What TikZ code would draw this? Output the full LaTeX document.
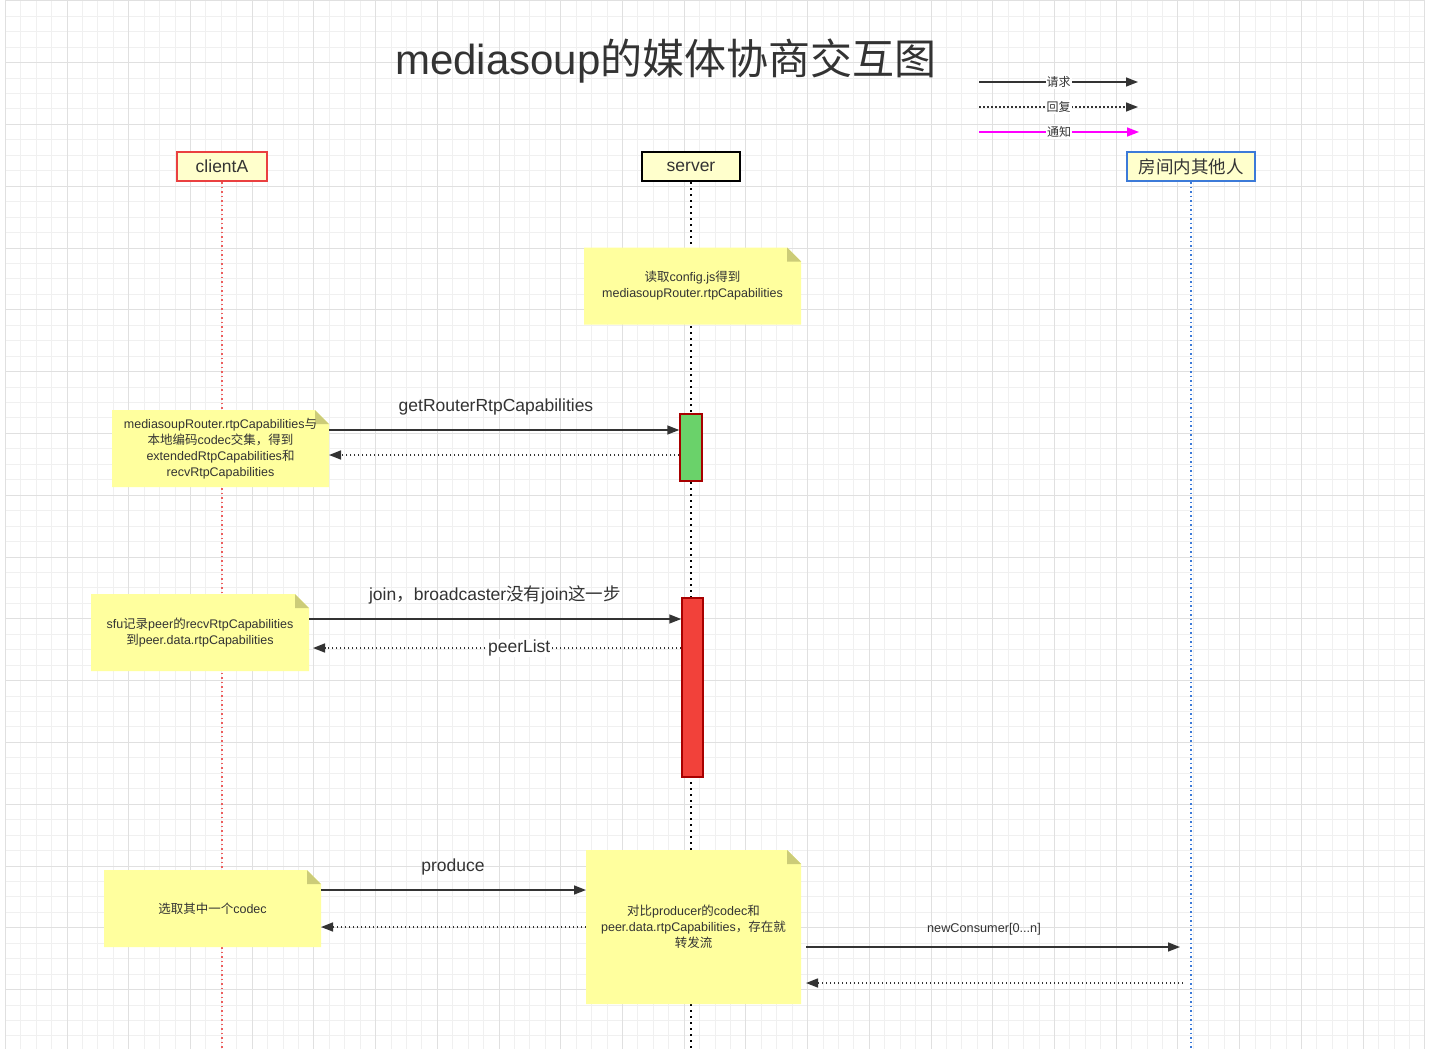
\documentclass[tikz,border=0pt]{standalone}
\usepackage{fontspec}
\setmainfont{Liberation Sans}
\newfontfamily\cjk{Noto Sans CJK SC}
\newcommand{\zh}[1]{{\cjk #1}}
\usepackage{xcolor}
\definecolor{mytext}{HTML}{333333}
\definecolor{gridminor}{HTML}{F0F0F0}
\definecolor{gridmajor}{HTML}{E0E0E0}
\definecolor{headfill}{HTML}{FFFFCC}
\definecolor{notefill}{HTML}{FFFF9E}
\definecolor{foldfill}{HTML}{CCCC78}
\definecolor{myred}{HTML}{EA4040}
\definecolor{myblue}{HTML}{3C7AD8}
\definecolor{actgreen}{HTML}{6AD26A}
\definecolor{actred}{HTML}{F2413A}
\definecolor{actborder}{HTML}{A80000}
\definecolor{notify}{HTML}{FF00FF}
\usetikzlibrary{arrows.meta,backgrounds,calc}

\tikzset{
    head/.style={draw, line width=2pt, fill=headfill, minimum height=29pt, inner sep=0pt,
        text=mytext, font=\fontsize{17.5}{20}\selectfont},
    note/.style={minimum width=217pt, minimum height=77pt, inner sep=0pt, outer sep=0pt,
        align=center, text=mytext, font=\fontsize{12.5}{16}\selectfont},
    act/.style={draw=actborder, line width=1.5pt, minimum width=21pt, inner sep=0pt},
    req/.style={draw=mytext, line width=1.5pt, -{Triangle[length=12pt,width=9pt]}},
    rep/.style={req, dash pattern=on 1.5pt off 2.5pt},
    life/.style={line width=1.5pt, dash pattern=on 1.5pt off 3pt},
    msg/.style={text=mytext, font=\fontsize{17.5}{20}\selectfont},
    legend/.style={fill=white, inner sep=1pt, text=mytext, font=\fontsize{12}{14}\selectfont},
}

\begin{document}
\begin{tikzpicture}[x=1pt, y=-1pt]
    \useasboundingbox (0,0) rectangle (1429,1049);

    % title and legend
    \node[text=mytext, font=\fontsize{42}{48}\selectfont] (title) at (666,61) {mediasoup\zh{的媒体协商交互图}};
    \coordinate (lg1a) at (979,82);  \coordinate (lg1b) at (1138,82);
    \coordinate (lg2a) at (979,107); \coordinate (lg2b) at (1138,107);
    \coordinate (lg3a) at (979,132); \coordinate (lg3b) at (1139,132);

    % lifeline heads
    \node[head, draw=myred, minimum width=90pt] (clientA) at (222,166.5) {clientA};
    \node[head, draw=black, minimum width=98pt] (server) at (691,166.5) {server};
    \node[head, draw=myblue, minimum width=128pt] (others) at (1191,166.5) {\zh{房间内其他人}};

    % notes
    \node[note] (cfg) at (692.5,286) {\zh{读取}config.js\zh{得到}\\mediasoupRouter.rtpCapabilities};
    \node[note] (inter) at (220.5,448.5) {mediasoupRouter.rtpCapabilities\zh{与}\\\zh{本地编码}codec\zh{交集，得到}\\extendedRtpCapabilities\zh{和}\\recvRtpCapabilities};
    \node[note, minimum width=218pt] (rec) at (200,632.5) {sfu\zh{记录}peer\zh{的}recvRtpCapabilities\\\zh{到}peer.data.rtpCapabilities};
    \node[note] (pick) at (212.5,908.5) {\zh{选取其中一个}codec};
    \node[note, minimum width=215pt, minimum height=154pt] (cmp) at (693.5,927) {\zh{对比}producer\zh{的}codec\zh{和}\\peer.data.rtpCapabilities\zh{，存在就}\\\zh{转发流}};

    % activations
    \node[act, fill=actgreen, minimum width=22pt, minimum height=67pt] (getact) at (691,447.5) {};
    \node[act, fill=actred, minimum height=179pt] (joinact) at (692.5,687.5) {};

    \begin{scope}[on background layer]
        \fill[white] (0,0) rectangle (1429,1049);
        \foreach \i in {0,...,92} {\draw[gridminor] ({5+15.43*\i},0) -- ({5+15.43*\i},1049);}
        \foreach \j in {0,...,68} {\draw[gridminor] (5,{0.5+15.45*\j}) -- (1425,{0.5+15.45*\j});}
        \foreach \i in {0,...,23} {\draw[gridmajor] ({5+61.72*\i},0) -- ({5+61.72*\i},1049);}
        \foreach \j in {0,...,17} {\draw[gridmajor] (5,{0.5+61.8*\j}) -- (1425,{0.5+61.8*\j});}
        \draw[life, draw=myred!85] (clientA.south) -- (clientA.south |- 0,1049);
        \draw[life, draw=black, dash pattern=on 2pt off 4pt] (server.south) -- (server.south |- 0,1049);
        \draw[life, draw=myblue] (others.south) -- (others.south |- 0,1049);
        \foreach \n in {cfg,inter,rec,pick,cmp} {
            \fill[notefill] (\n.south west) -- (\n.north west) -- ([xshift=-14pt]\n.north east)
                -- ([yshift=-14pt]\n.north east) -- (\n.south east) -- cycle;
            \fill[foldfill] ([xshift=-14pt]\n.north east) -- ([xshift=-14pt,yshift=-14pt]\n.north east)
                -- ([yshift=-14pt]\n.north east) -- cycle;
        }
    \end{scope}

    \draw[req] (lg1a) -- node[legend] {\zh{请求}} (lg1b);
    \draw[rep] (lg2a) -- node[legend] {\zh{回复}} (lg2b);
    \draw[req, draw=notify, -{Triangle[length=12pt,width=9pt,fill=notify]}] (lg3a) -- node[legend] {\zh{通知}} (lg3b);

    % messages
    \coordinate (m1) at (0,430); \coordinate (m2) at (0,455);
    \coordinate (m3) at (0,619); \coordinate (m4) at (0,648);
    \coordinate (m5) at (0,890); \coordinate (m6) at (0,927);
    \coordinate (nc) at (1180,947); \coordinate (ncback) at (1183,983);

    \node[msg] (getlabel) at (496,407) {getRouterRtpCapabilities};
    \draw[req] (inter.east |- m1) -- (getact.west |- m1);
    \draw[rep] (getact.west |- m2) -- (inter.east |- m2);

    \node[msg] (joinlabel) at (495,595) {join\zh{，}broadcaster\zh{没有}join\zh{这一步}};
    \draw[req] (rec.east |- m3) -- (joinact.west |- m3);
    \draw[rep] (joinact.west |- m4) -- node[pos=0.44, msg, fill=white, inner sep=1pt] {peerList} ([xshift=4pt]rec.east |- m4);

    \node[msg] (producelabel) at (453,867) {produce};
    \draw[req] (pick.east |- m5) -- (cmp.west |- m5);
    \draw[rep] (cmp.west |- m6) -- (pick.east |- m6);

    \node[text=mytext, font=\fontsize{12.7}{15}\selectfont] (nclabel) at (984,929) {newConsumer[0...n]};
    \draw[req, shorten <=5pt] (cmp.east |- nc) -- (nc);
    \draw[rep, shorten >=5pt] (ncback) -- (cmp.east |- ncback);
\end{tikzpicture}
\end{document}
